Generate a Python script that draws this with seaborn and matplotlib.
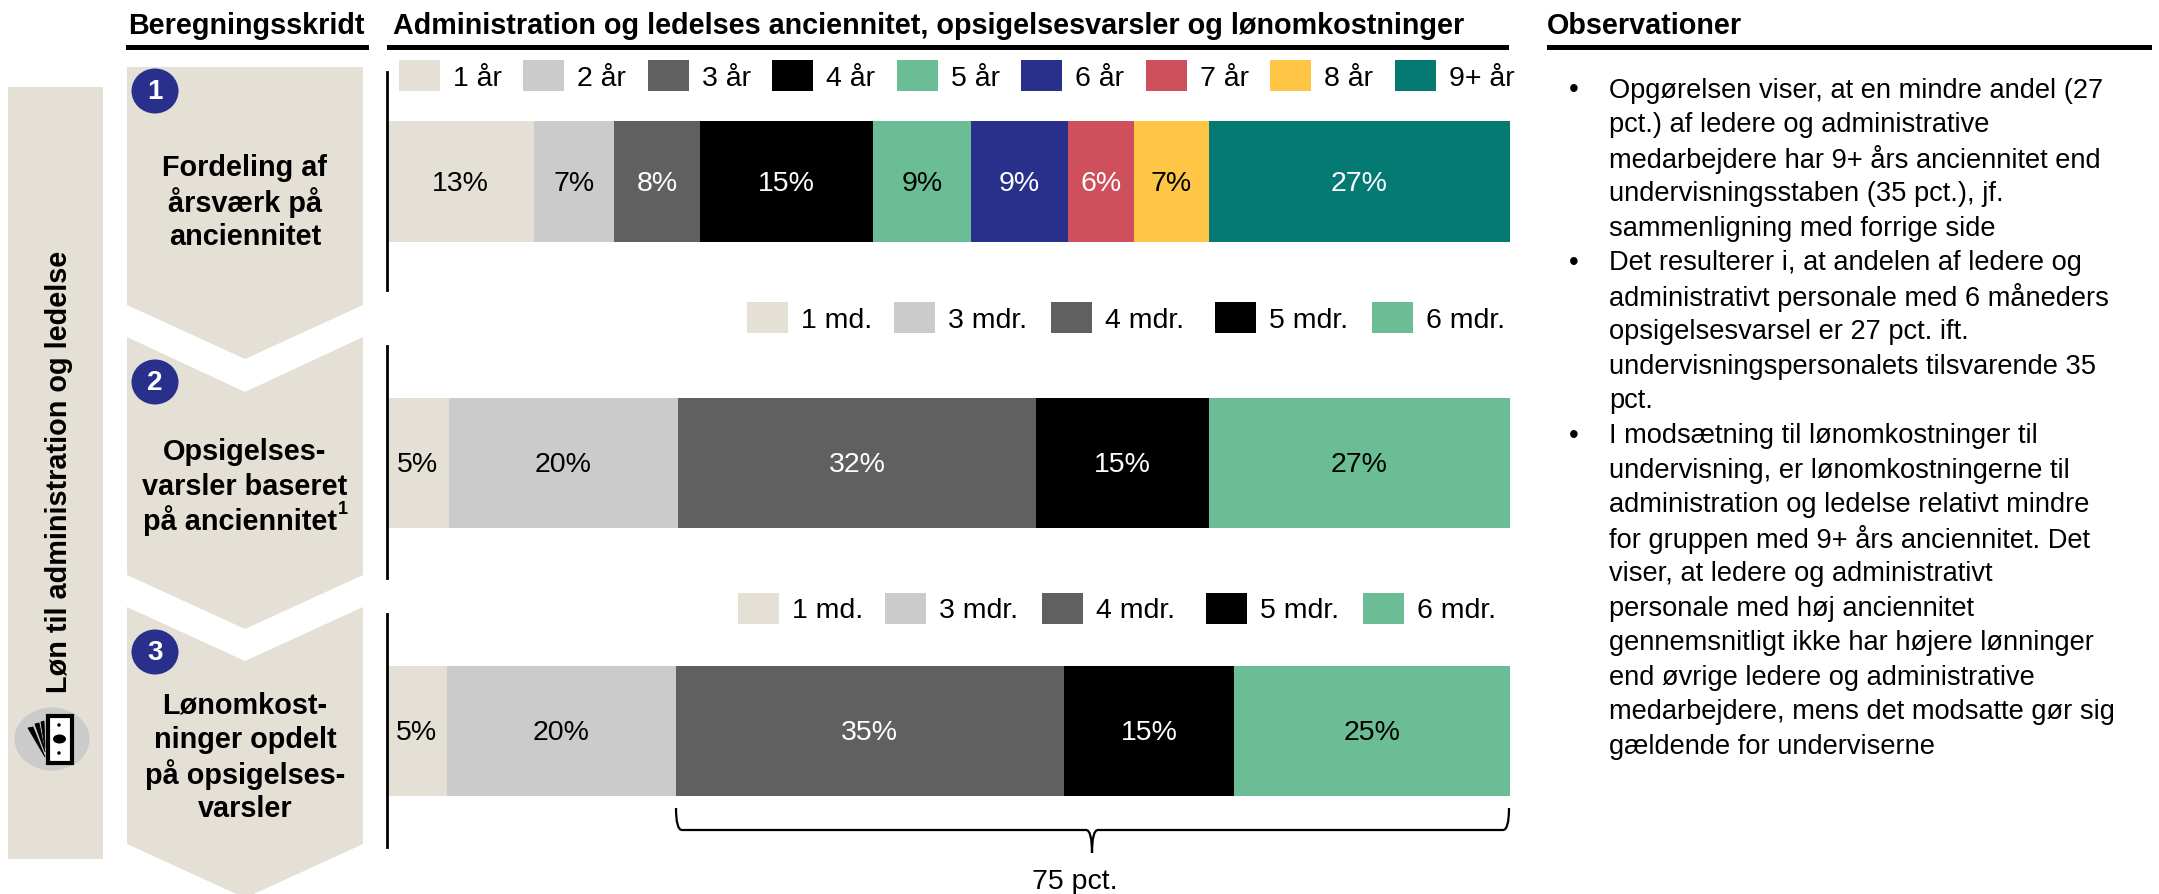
import matplotlib
matplotlib.use("Agg")
from matplotlib import pyplot as plt
from matplotlib.patches import Ellipse, PathPatch, Polygon, Rectangle
from matplotlib.path import Path
import seaborn as sns

# Data

years = ["1 år", "2 år", "3 år", "4 år", "5 år", "6 år", "7 år", "8 år", "9+ år"]
months = ["1 md.", "3 mdr.", "4 mdr.", "5 mdr.", "6 mdr."]

share_fte = [13.1, 7.1, 7.7, 15.4, 8.7, 8.6, 5.9, 6.7, 26.8]
share_notice = [5.5, 20.4, 31.9, 15.4, 26.8]
share_cost = [5.3, 20.4, 34.6, 15.1, 24.6]

labels_fte = ["13%", "7%", "8%", "15%", "9%", "9%", "6%", "7%", "27%"]
labels_notice = ["5%", "20%", "32%", "15%", "27%"]
labels_cost = ["5%", "20%", "35%", "15%", "25%"]

steps = [
    ["Fordeling af", "årsværk på", "anciennitet"],
    ["Opsigelses-", "varsler baseret"],
    ["Lønomkost-", "ninger opdelt", "på opsigelses-", "varsler"],
]

observations = [
    ["Opgørelsen viser, at en mindre andel (27", "pct.) af ledere og administrative",
     "medarbejdere har 9+ års anciennitet end", "undervisningsstaben (35 pct.), jf.",
     "sammenligning med forrige side"],
    ["Det resulterer i, at andelen af ledere og", "administrativt personale med 6 måneders",
     "opsigelsesvarsel er 27 pct. ift.", "undervisningspersonalets tilsvarende 35", "pct."],
    ["I modsætning til lønomkostninger til", "undervisning, er lønomkostningerne til",
     "administration og ledelse relativt mindre", "for gruppen med 9+ års anciennitet. Det",
     "viser, at ledere og administrativt", "personale med høj anciennitet",
     "gennemsnitligt ikke har højere lønninger", "end øvrige ledere og administrative",
     "medarbejdere, mens det modsatte gør sig", "gældende for underviserne"],
]

# Colours

BEIGE = "#E4E0D6"
NAVY = "#29308C"
colors_years = [BEIGE, "#CBCBCB", "#606060", "#000000", "#6ABD95", NAVY, "#CE505C", "#FFC645", "#047A72"]
colors_months = [BEIGE, "#CBCBCB", "#606060", "#000000", "#6ABD95"]
text_years = ["black", "black", "white", "white", "black", "white", "white", "black", "white"]
text_months = ["black", "black", "white", "white", "black"]

sns.set_theme(style="white")
plt.rcParams["font.family"] = ["Liberation Sans", "DejaVu Sans"]

W, H = 2159, 894
fig = plt.figure(figsize=(W / 100, H / 100), dpi=100)

BAR_LEFT, BAR_RIGHT = 387, 1510


def stacked_row(values, labels, colors, text_colors, top, bottom, bar_top, bar_bottom):
    ax = fig.add_axes([BAR_LEFT / W, 1 - bottom / H, (BAR_RIGHT - BAR_LEFT) / W, (bottom - top) / H])
    left = 0
    for value, label, color, text_color in zip(values, labels, colors, text_colors):
        sns.barplot(x=[value], y=[0], left=left, orient="h", color=color, saturation=1,
                    width=1, linewidth=0, ax=ax)
        for t in ax.bar_label(ax.containers[-1], labels=[label], label_type="center",
                              color=text_color, fontsize=20.5):
            t.xyann = (0, -1.5)
        left += value
    px = bar_bottom - bar_top
    ax.set_ylim(0.5 + (bottom - bar_bottom) / px, -0.5 - (bar_top - top) / px)
    ax.set_xlim(0, sum(values))
    ax.set_xlabel("")
    ax.set_ylabel("")
    ax.set_xticks([])
    ax.set_yticks([])
    for side in ["top", "right", "bottom"]:
        ax.spines[side].set_visible(False)
    ax.spines["left"].set_color("black")
    ax.spines["left"].set_linewidth(2)
    ax.patch.set_alpha(0)
    ax.set_zorder(3)


stacked_row(share_fte, labels_fte, colors_years, text_years, 72, 290, 121, 242)
stacked_row(share_notice, labels_notice, colors_months, text_months, 346, 578, 398, 528)
stacked_row(share_cost, labels_cost, colors_months, text_months, 614, 847, 666, 796)

# Overlay in pixel coordinates for the slide furniture

bg = fig.add_axes([0, 0, 1, 1], zorder=1)
bg.set_xlim(0, W)
bg.set_ylim(H, 0)
bg.axis("off")

# Headers
for x0, x1, tx, title in [(126, 369, 128, "Beregningsskridt"),
                          (387, 1509, 393, "Administration og ledelses anciennitet, opsigelsesvarsler og lønomkostninger"),
                          (1547, 2152, 1547, "Observationer")]:
    bg.add_patch(Rectangle((x0, 45), x1 - x0, 5, color="black", lw=0))
    bg.text(tx, 26, title, fontsize=20.7, fontweight="bold", color="black", va="center", ha="left")

# Left band with icon
bg.add_patch(Rectangle((8, 87), 95, 772, color=BEIGE, lw=0))
bg.text(59, 472, "Løn til administration og ledelse", rotation=90, fontsize=20.8, fontweight="bold",
        color="black", va="center", ha="center")
bg.add_patch(Ellipse((52, 739), 75, 63, color="#CBCBCB", lw=0))
bg.add_patch(Rectangle((48, 716), 24, 47, fc="white", ec="black", lw=3))
bg.add_patch(Ellipse((59.5, 739), 13, 9, color="black", lw=0))
bg.add_patch(Ellipse((59, 725), 3.5, 3.5, color="black", lw=0))
bg.add_patch(Ellipse((59, 753), 3.5, 3.5, color="black", lw=0))
for pts in [[(28, 728), (33, 727), (45, 757)], [(35, 724), (39, 723), (45, 752)], [(41, 722), (44, 721), (45, 748)]]:
    bg.add_patch(Polygon(pts, fc="black", ec="black", lw=0.6))

# Chevrons
CX0, CX1, CXM = 127, 363, 245
for side_top, notch, side_bottom, tip in [(67, 67, 305, 359), (337, 392, 575, 629), (607, 661, 844, 898)]:
    bg.add_patch(Polygon([(CX0, side_top), (CXM, notch), (CX1, side_top), (CX1, side_bottom),
                          (CXM, tip), (CX0, side_bottom)], fc=BEIGE, ec="none"))

for i, cy in enumerate([91, 382, 652]):
    bg.add_patch(Ellipse((155, cy), 47, 45, color=NAVY, lw=0))
    bg.text(155, cy + 1, str(i + 1), color="white", fontsize=20, fontweight="bold", va="center", ha="center")

for lines, y0 in zip(steps, [168, 452, 705]):
    for j, line in enumerate(lines):
        bg.text(CXM, y0 + j * 34.6, line, fontsize=20.8, fontweight="bold", color="black", va="center", ha="center")

# Third line of step 2 carries a raised footnote mark
bg.text(143, 521, "på anciennitet", fontsize=20.8, fontweight="bold", color="black", va="center", ha="left")
bg.text(338, 509, "1", fontsize=13, fontweight="bold", color="black", va="center", ha="left")

# Legends


def legend_row(names, colors, xs, top, bottom):
    for name, color, x in zip(names, colors, xs):
        bg.add_patch(Rectangle((x, top), 41, bottom - top, color=color, lw=0))
        bg.text(x + 54, (top + bottom) / 2 + 3, name, fontsize=20.5, color="black", va="center", ha="left")


legend_row(years, colors_years, [399, 523, 648, 772, 897, 1021, 1146, 1270, 1395], 60, 91)
legend_row(months, colors_months, [747, 894, 1051, 1215, 1372], 302, 333)
legend_row(months, colors_months, [738, 885, 1042, 1206, 1363], 593, 624)

# Brace under the 75 pct.
bx0, bx1, bm = 676, 1509, 1092
brace = Path(
    [(bx0, 808), (bx0, 830), (bx0 + 6, 830), (bm - 6, 830), (bm, 830), (bm, 853),
     (bm, 830), (bm + 6, 830), (bx1 - 6, 830), (bx1, 830), (bx1, 808)],
    [Path.MOVETO, Path.CURVE3, Path.CURVE3, Path.LINETO, Path.CURVE3, Path.CURVE3,
     Path.CURVE3, Path.CURVE3, Path.LINETO, Path.CURVE3, Path.CURVE3])
bg.add_patch(PathPatch(brace, fc="none", ec="black", lw=1.6))
bg.text(1075, 882, "75 pct.", fontsize=20.5, color="black", va="center", ha="center")

# Observations
y = 90.5
for block in observations:
    bg.text(1574, y, "•", fontsize=20, color="black", va="center", ha="center")
    for line in block:
        bg.text(1609, y, line, fontsize=19.6, color="black", va="center", ha="left")
        y += 34.55

fig.savefig("out.png", dpi=100)
